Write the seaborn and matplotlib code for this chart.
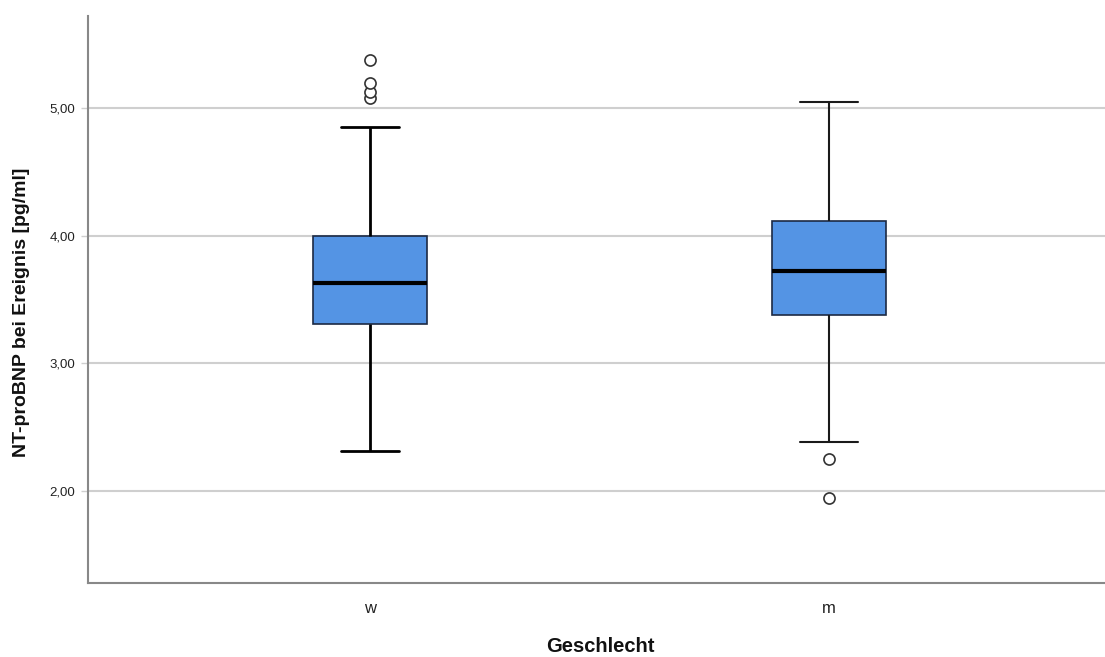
import numpy as np
import pandas as pd
import matplotlib
matplotlib.use("Agg")
import matplotlib.pyplot as plt
import seaborn as sns

# ---- data ----
groups = ["w", "m"]
q1 = [3.305, 3.375]
medians = [3.63, 3.72]
q3 = [4.00, 4.112]
whisker_low = [2.3125, 2.388]
whisker_high = [4.854, 5.044]
outliers = [[5.076, 5.123, 5.193, 5.375], [1.95, 2.25]]
y_ticks = [2.0, 3.0, 4.0, 5.0]
y_tick_labels = ["2,00", "3,00", "4,00", "5,00"]
x_label = "Geschlecht"
y_label = "NT-proBNP bei Ereignis [pg/ml]"

# Build an observation table whose quartiles / whiskers reproduce the summary above
REP = 20
rows = []
for g, a, b, c, lo, hi, fl in zip(groups, q1, medians, q3, whisker_low, whisker_high, outliers):
    vals = [lo] + [a] * REP + [b] * REP + [c] * REP + [hi] + list(fl)
    rows += [(g, v) for v in vals]
df = pd.DataFrame(rows, columns=["Geschlecht", "value"])

sns.set_theme(style="white")
plt.rcParams["font.family"] = ["Liberation Sans", "DejaVu Sans"]

fig = plt.figure(figsize=(11.05, 6.57), dpi=100)
ax = fig.add_axes([88 / 1105, 1 - 583 / 657, 1 - 88 / 1105, (583 - 16) / 657])

sns.boxplot(
    data=df, x="Geschlecht", y="value", order=groups, ax=ax,
    width=0.25, whis=1.5, color="#5494E4", saturation=1,
    boxprops=dict(facecolor="#5494E4", edgecolor="#1c2a44", linewidth=1.2),
    medianprops=dict(color="#000000", linewidth=3),
    whiskerprops=dict(color="#000000", linewidth=2),
    capprops=dict(color="#000000", linewidth=2),
    flierprops=dict(marker="o", markersize=8, markerfacecolor="white",
                    markeredgecolor="#333333", markeredgewidth=1.2),
    capwidths=0.125, zorder=3,
)

# second group (m) has thinner whiskers in the reference
for ln in ax.lines:
    xd = np.asarray(ln.get_xdata(), dtype=float)
    if ln.get_linestyle() != "None" and len(xd) and np.all(np.abs(xd - 1) < 0.2):
        if ln.get_linewidth() < 2.5:
            ln.set_linewidth(1.5)
            ln.set_color("#1a1a1a")

ax.set_ylim(1.281, 5.719)
ax.set_xlim(-0.614, 1.601)
ax.set_yticks(y_ticks)
ax.set_yticklabels(y_tick_labels)
ax.yaxis.grid(True, color="#cfcfcf", linewidth=1.5, zorder=0)
ax.set_axisbelow(True)

for s in ["top", "right"]:
    ax.spines[s].set_visible(False)
for s in ["left", "bottom"]:
    ax.spines[s].set_color("#888888")
    ax.spines[s].set_linewidth(1.5)

ax.tick_params(axis="y", which="major", left=True, length=5, width=1, color="#cfcfcf",
               labelsize=9.5, labelcolor="#222222", pad=4)
ax.tick_params(axis="x", bottom=False, labelsize=12, labelcolor="#222222", pad=7)

ax.set_xlabel(x_label, fontsize=14.5, fontweight="bold", color="#111111", va="center")
ax.xaxis.set_label_coords((600 - 88) / 1017, -(647 - 583) / 567)
ax.set_ylabel(y_label, fontsize=14, fontweight="bold", color="#111111", va="center")
ax.yaxis.set_label_coords(-(88 - 22) / 1017, (583 - 312) / 567)

fig.savefig("out.png", dpi=100, facecolor="white")
